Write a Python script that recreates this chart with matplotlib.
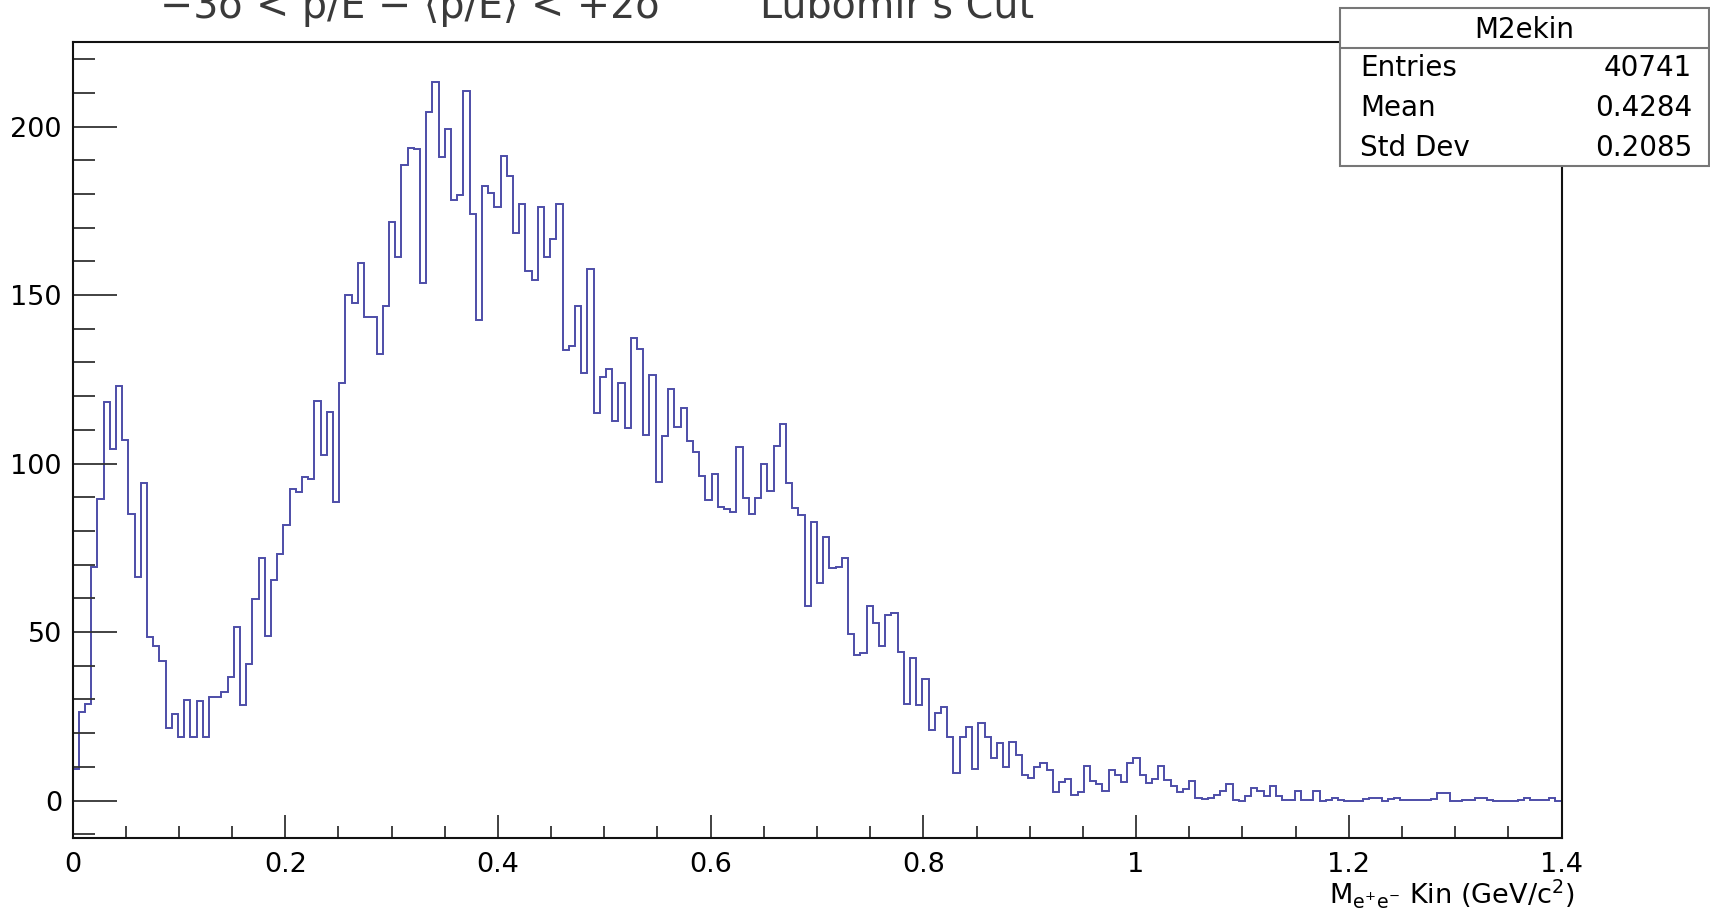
import numpy as np
import matplotlib
matplotlib.use('Agg')
import matplotlib.pyplot as plt
from matplotlib.patches import Rectangle
from matplotlib.lines import Line2D
from matplotlib.ticker import MultipleLocator, FixedLocator, FixedFormatter

# ---------------- data ----------------
x_min, x_max = 0.0, 1.4
counts = [
    9.5, 26.4, 28.8, 69.4, 89.5, 118.3, 104.2, 123.0, 106.9, 85.0,
    66.2, 94.3, 48.6, 46.0, 41.4, 21.6, 25.6, 19.0, 29.8, 19.0,
    29.6, 19.0, 30.6, 30.8, 32.3, 36.7, 51.4, 28.3, 40.5, 59.7,
    72.0, 48.8, 65.4, 73.1, 81.9, 92.6, 91.6, 95.9, 95.3, 118.6,
    102.5, 115.2, 88.7, 124.0, 150.0, 147.7, 159.5, 143.6, 143.6, 132.5,
    146.8, 171.8, 161.4, 188.6, 193.8, 193.3, 153.7, 204.4, 213.3, 191.0,
    199.3, 178.2, 179.7, 210.5, 174.0, 142.6, 182.4, 180.2, 176.0, 191.3,
    185.3, 168.5, 177.0, 157.2, 154.5, 176.0, 161.4, 166.6, 177.0, 133.7,
    134.9, 146.7, 127.0, 157.7, 114.9, 125.8, 128.0, 112.6, 124.0, 110.6,
    137.3, 134.0, 108.6, 126.4, 94.6, 108.2, 122.1, 111.0, 116.6, 106.7,
    103.5, 96.3, 89.2, 96.8, 87.0, 86.4, 85.7, 105.0, 89.7, 84.9,
    89.8, 99.9, 91.8, 105.3, 111.6, 94.1, 86.7, 84.7, 57.8, 82.7,
    64.7, 78.3, 68.9, 69.4, 72.0, 49.3, 43.2, 43.9, 57.7, 52.6,
    46.0, 55.0, 55.7, 44.2, 28.8, 42.4, 28.4, 36.1, 20.9, 26.1,
    27.8, 18.9, 8.1, 18.9, 21.9, 9.5, 22.9, 18.9, 12.7, 17.0,
    10.0, 17.3, 13.5, 7.6, 6.6, 10.0, 11.0, 9.2, 2.4, 5.6,
    6.4, 1.6, 2.4, 10.2, 5.8, 4.9, 2.8, 9.2, 7.7, 5.6,
    11.0, 12.5, 7.5, 5.1, 6.3, 10.3, 6.2, 4.2, 2.4, 3.3,
    5.9, 0.7, 0.6, 0.8, 1.6, 2.9, 4.8, 0.1, 0.0, 1.4,
    3.6, 2.8, 1.3, 4.4, 1.4, 0.1, 0.1, 2.9, 0.1, 0.1,
    2.9, 0.0, 0.3, 0.9, 0.1, 0.0, 0.0, 0.0, 0.4, 0.9,
    0.9, 0.0, 0.6, 0.9, 0.3, 0.1, 0.1, 0.1, 0.1, 0.6,
    2.1, 2.1, 0.0, 0.0, 0.1, 0.1, 0.9, 0.9, 0.1, 0.0,
    0.0, 0.0, 0.0, 0.3, 0.9, 0.1, 0.1, 0.1, 0.9, 0.0,
]
x_ticks = [0.0, 0.2, 0.4, 0.6, 0.8, 1.0, 1.2, 1.4]
x_tick_labels = ['0', '0.2', '0.4', '0.6', '0.8', '1', '1.2', '1.4']
y_ticks = [0, 50, 100, 150, 200]
y_tick_labels = ['0', '50', '100', '150', '200']
title_left = '\u22123\u03c3 < p/E \u2212 \u27e8p/E\u27e9 < +2\u03c3'
title_right = "Lubomir's Cut"
x_label = r'M$_{\mathrm{e^{+}e^{-}}}$ Kin (GeV/c$^{2}$)'
stats_name = 'M2ekin'
stats_labels = ['Entries', 'Mean', 'Std Dev']
stats_values = ['40741', '0.4284', '0.2085']

# ---------------- figure ----------------
W, H = 1710, 915
plt.rcParams['font.family'] = ['DejaVu Sans']
plt.rcParams['mathtext.fontset'] = 'dejavusans'
fig = plt.figure(figsize=(W / 100, H / 100), dpi=100)
fig.patch.set_facecolor('white')

ax_l, ax_r, ax_t, ax_b = 72.5, 1561.5, 41.7, 838.3
ax = fig.add_axes([ax_l / W, 1 - ax_b / H, (ax_r - ax_l) / W, (ax_b - ax_t) / H])

edges = np.linspace(x_min, x_max, len(counts) + 1)
ax.stairs(counts, edges, baseline=None, color='#4d4da8', lw=1.4)

ax.set_xlim(x_min, x_max)
ax.set_ylim(-11.2, 225.2)

ax.xaxis.set_major_locator(FixedLocator(x_ticks))
ax.xaxis.set_major_formatter(FixedFormatter(x_tick_labels))
ax.xaxis.set_minor_locator(MultipleLocator(0.05))
ax.yaxis.set_major_locator(FixedLocator(y_ticks))
ax.yaxis.set_major_formatter(FixedFormatter(y_tick_labels))
ax.yaxis.set_minor_locator(MultipleLocator(10))

ax.tick_params(axis='x', which='major', direction='in', length=16.5, width=1.3,
               color='#333333', labelsize=19.5, pad=10, top=False)
ax.tick_params(axis='x', which='minor', direction='in', length=8.6, width=1.3,
               color='#333333', top=False)
ax.tick_params(axis='y', which='major', direction='in', length=31.7, width=1.3,
               color='#333333', labelsize=19.5, pad=7.6, right=False)
ax.tick_params(axis='y', which='minor', direction='in', length=15.8, width=1.3,
               color='#333333', right=False)
for s in ax.spines.values():
    s.set_linewidth(1.5)
    s.set_color('#111111')

# title (partly cut at the top edge, as in the reference)
fig.text(160 / W, 1 - 18 / H, title_left, fontsize=28.5, color='#3a3a3a',
         ha='left', va='baseline')
fig.text(760 / W, 1 - 18 / H, title_right, fontsize=28.5, color='#3a3a3a',
         ha='left', va='baseline')

# x axis title, right aligned near the axis end
fig.text(1574 / W, 1 - 903 / H, x_label, fontsize=19.5, ha='right', va='baseline')

# stats box
bx0, bx1, by0, by1, bsep = 1340, 1709, 8.3, 165.7, 48.3
fig.patches.append(Rectangle((bx0 / W, 1 - by1 / H), (bx1 - bx0) / W, (by1 - by0) / H,
                             transform=fig.transFigure, facecolor='white',
                             edgecolor='#777777', lw=1.5, zorder=10))
fig.lines.append(Line2D([bx0 / W, bx1 / W], [1 - bsep / H, 1 - bsep / H],
                        transform=fig.transFigure, color='#777777', lw=1.5, zorder=11))
fig.text((bx0 + bx1) / 2 / W, 1 - 29.5 / H, stats_name, fontsize=20,
         ha='center', va='center', zorder=12)
row_y = [68.5, 108.5, 148.5]
for lab, val, yy in zip(stats_labels, stats_values, row_y):
    fig.text(1360 / W, 1 - yy / H, lab, fontsize=20, ha='left', va='center', zorder=12)
    fig.text(1692 / W, 1 - yy / H, val, fontsize=20, ha='right', va='center', zorder=12)

fig.savefig('out.png', dpi=100)
